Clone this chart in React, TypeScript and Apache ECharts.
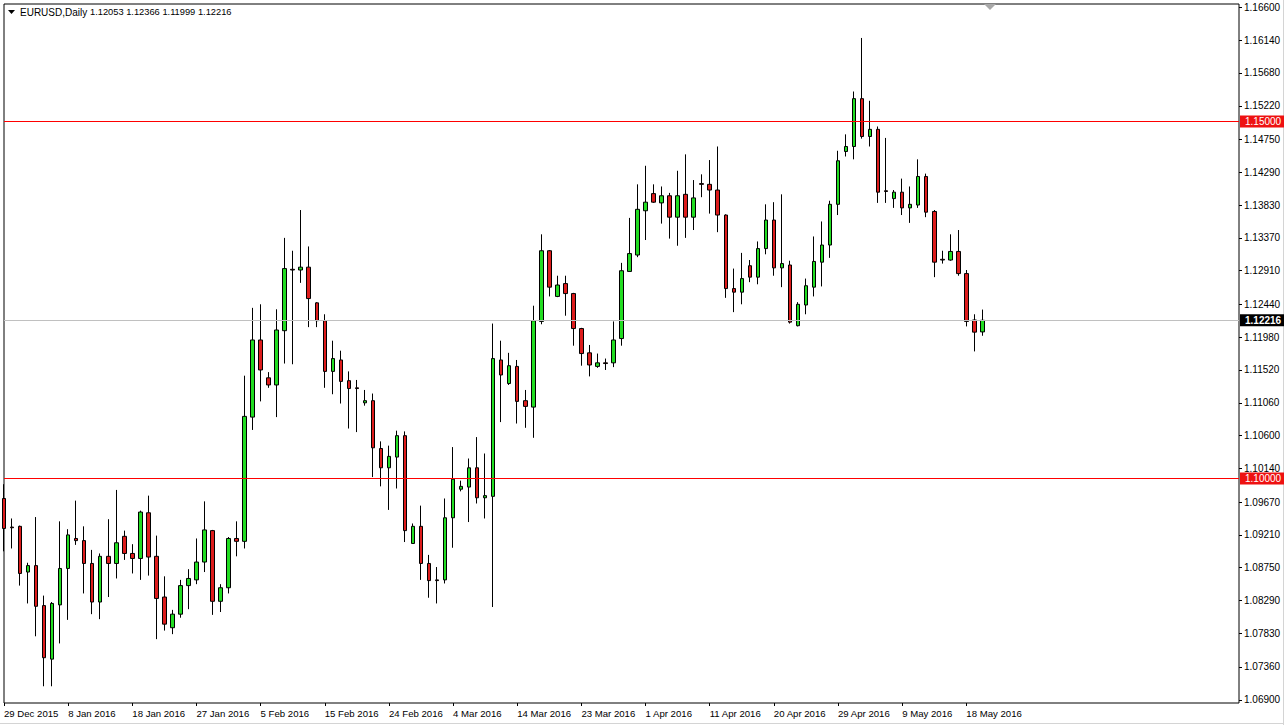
import React, { useEffect, useRef } from "react";
import * as echarts from "echarts";

// ---- data ----
const symbolName = "EURUSD,Daily";
const quoteText = "1.12053 1.12366 1.11999 1.12216";
const startDate = "2015-12-29";
const skippedDays = ["2016-01-01"]; // holiday without a bar
const totalSlots = 155; // bars + empty chart-shift space on the right
const labelEvery = 8;

const opens = [
  1.0972, 1.0932, 1.0933, 1.0869, 1.0878, 1.0822, 1.0747, 1.0823, 1.0874, 1.0916,
  1.0913, 1.0881, 1.0827, 1.0891, 1.0881, 1.0919, 1.0895, 1.0888, 1.0952, 1.0891,
  1.0834, 1.0791, 1.081, 1.085, 1.0858, 1.0883, 1.0927, 1.0828, 1.0847, 1.0916,
  1.0912, 1.1086, 1.1194, 1.1141, 1.1131, 1.1207, 1.1293, 1.1292, 1.1296, 1.1246,
  1.1221, 1.115, 1.1166, 1.1137, 1.1127, 1.1106, 1.1109, 1.1042, 1.1015, 1.103,
  1.106, 1.0909, 1.0933, 1.0881, 1.0858, 1.0858, 1.0945, 1.0985, 1.0988, 1.1015,
  1.0973, 1.0975, 1.1166, 1.1133, 1.1157, 1.1109, 1.11, 1.122, 1.1319, 1.1255,
  1.1273, 1.1259, 1.121, 1.1176, 1.1157, 1.1162, 1.1162, 1.1196, 1.129, 1.1313,
  1.1375, 1.1399, 1.1386, 1.1396, 1.1366, 1.1398, 1.1366, 1.1413, 1.1412, 1.1404,
  1.1369, 1.1266, 1.1261, 1.1298, 1.1282, 1.1322, 1.1362, 1.1295, 1.1299, 1.1214,
  1.1243, 1.1268, 1.1303, 1.1327, 1.1384, 1.1458, 1.1465, 1.1532, 1.1479, 1.1489,
  1.1403, 1.1392, 1.1401, 1.1379, 1.1383, 1.1423, 1.1374, 1.1307, 1.1306, 1.1318,
  1.1287, 1.1222, 1.12053,
];
const closes = [
  1.093, 1.0931, 1.0867, 1.0878, 1.0821, 1.0749, 1.0825, 1.0874, 1.0921, 1.0913,
  1.0881, 1.0827, 1.0891, 1.0881, 1.091, 1.0895, 1.0888, 1.0953, 1.089, 1.0832,
  1.0796, 1.081, 1.085, 1.086, 1.0883, 1.0928, 1.0828, 1.0847, 1.0916, 1.0912,
  1.1087, 1.1194, 1.1152, 1.1131, 1.1208, 1.1294, 1.1292, 1.1296, 1.1252, 1.1221,
  1.115, 1.1168, 1.1136, 1.1126, 1.1126, 1.1109, 1.1043, 1.1015, 1.1031, 1.106,
  1.0927, 1.0933, 1.0881, 1.0857, 1.0857, 1.0945, 1.0999, 1.0989, 1.1015, 1.0973,
  1.0976, 1.1168, 1.1145, 1.1158, 1.1108, 1.1101, 1.1221, 1.1319, 1.1268, 1.1271,
  1.1259, 1.121, 1.1175, 1.1159, 1.1162, 1.1161, 1.1194, 1.1291, 1.1315, 1.1377,
  1.1387, 1.1387, 1.1396, 1.1366, 1.1396, 1.1366, 1.1393, 1.1412, 1.1404, 1.1369,
  1.1266, 1.1261, 1.128, 1.1282, 1.1322, 1.1362, 1.1295, 1.1301, 1.1219, 1.1244,
  1.127, 1.1304, 1.1327, 1.1384, 1.1445, 1.1465, 1.1532, 1.1479, 1.1489, 1.1401,
  1.1402, 1.1401, 1.1379, 1.1384, 1.1423, 1.1373, 1.1303, 1.1306, 1.1318, 1.1287,
  1.122, 1.1205, 1.12216,
];
const lows = [
  1.0898, 1.0902, 1.085, 1.0825, 1.0779, 1.0709, 1.0709, 1.0769, 1.0802, 1.0907,
  1.0839, 1.081, 1.0803, 1.0834, 1.086, 1.0886, 1.0867, 1.0858, 1.0864, 1.0775,
  1.0787, 1.0782, 1.0805, 1.0817, 1.0852, 1.0869, 1.0809, 1.0813, 1.0839, 1.0891,
  1.0902, 1.1068, 1.1108, 1.1127, 1.1086, 1.1161, 1.116, 1.1274, 1.1212, 1.1212,
  1.1127, 1.1118, 1.1105, 1.107, 1.1065, 1.1102, 1.1002, 1.0989, 1.0956, 1.0986,
  1.0911, 1.0909, 1.0858, 1.0833, 1.0825, 1.0853, 1.0903, 1.0982, 1.0939, 1.0965,
  1.0944, 1.082, 1.1079, 1.1131, 1.1077, 1.1071, 1.1057, 1.1216, 1.1255, 1.1254,
  1.1228, 1.1186, 1.1158, 1.1143, 1.1155, 1.1152, 1.1156, 1.1186, 1.129, 1.131,
  1.1334, 1.1386, 1.1357, 1.1336, 1.1326, 1.1337, 1.1348, 1.1394, 1.1371, 1.1345,
  1.1253, 1.1233, 1.1244, 1.1275, 1.1272, 1.1314, 1.1284, 1.1268, 1.1217, 1.1213,
  1.123, 1.1255, 1.1269, 1.1309, 1.1369, 1.1451, 1.1447, 1.1476, 1.1465, 1.1386,
  1.1386, 1.1379, 1.1369, 1.1358, 1.1379, 1.1366, 1.1282, 1.1301, 1.1305, 1.1284,
  1.1213, 1.1178, 1.11999,
];
const highs = [
  1.0992, 1.0944, 1.0934, 1.0882, 1.0946, 1.0836, 1.0827, 1.094, 1.0929, 1.0969,
  1.0933, 1.09, 1.0895, 1.0943, 1.0984, 1.0927, 1.0908, 1.0955, 1.0976, 1.092,
  1.0863, 1.0816, 1.0858, 1.0873, 1.0916, 1.0968, 1.0928, 1.0852, 1.0918, 1.094,
  1.1144, 1.1239, 1.1244, 1.1149, 1.1237, 1.1337, 1.1319, 1.1376, 1.1325, 1.1247,
  1.123, 1.1193, 1.1179, 1.115, 1.1138, 1.1124, 1.1119, 1.1052, 1.1046, 1.1067,
  1.1066, 1.0937, 1.0962, 1.0893, 1.0876, 1.0972, 1.1044, 1.0997, 1.1028, 1.1058,
  1.1035, 1.1217, 1.1193, 1.1176, 1.1166, 1.1124, 1.1242, 1.1342, 1.132, 1.1284,
  1.1284, 1.126, 1.1211, 1.1187, 1.1175, 1.1168, 1.122, 1.1302, 1.1365, 1.1412,
  1.1438, 1.1412, 1.1409, 1.14, 1.1431, 1.1454, 1.1418, 1.1426, 1.1446, 1.1465,
  1.137, 1.1294, 1.1316, 1.1306, 1.1332, 1.1384, 1.1387, 1.1398, 1.1305, 1.1247,
  1.128, 1.1339, 1.136, 1.1389, 1.1459, 1.1482, 1.1542, 1.1617, 1.1529, 1.1493,
  1.1477, 1.1404, 1.142, 1.1409, 1.1447, 1.1427, 1.1376, 1.1319, 1.1342, 1.1348,
  1.1292, 1.123, 1.12366,
];

const yTicks = [
  1.069, 1.0736, 1.0783, 1.0829, 1.0875, 1.0921, 1.0967, 1.1014, 1.106, 1.1106,
  1.1152, 1.1198, 1.1244, 1.1291, 1.1337, 1.1383, 1.1429, 1.1475, 1.1522, 1.1568,
  1.1614, 1.166,
];
const yMin = 1.068557;
const yMax = 1.166457;
const levelLines = [1.15, 1.1];
const lastPrice = 1.12216;

const monthNames = ["Jan", "Feb", "Mar", "Apr", "May", "Jun", "Jul", "Aug", "Sep", "Oct", "Nov", "Dec"];

function buildCategories(): string[] {
  const out: string[] = [];
  const d = new Date(startDate + "T00:00:00Z");
  while (out.length < opens.length) {
    const iso = d.toISOString().slice(0, 10);
    if (d.getUTCDay() !== 6 && skippedDays.indexOf(iso) < 0) {
      out.push(d.getUTCDate() + " " + monthNames[d.getUTCMonth()] + " " + d.getUTCFullYear());
    }
    d.setUTCDate(d.getUTCDate() + 1);
  }
  while (out.length < totalSlots) out.push("");
  return out;
}

const FONT = "'Liberation Sans', 'DejaVu Sans', sans-serif";

export default function App() {
  const ref = useRef<HTMLDivElement>(null);

  useEffect(() => {
    document.body.style.margin = "0";
    if (!ref.current) return;
    const chart = echarts.init(ref.current, null, { renderer: "svg" });
    const categories = buildCategories();
    const candleData = opens.map((o, i) => [o, closes[i], lows[i], highs[i]]);
    const showTick = (i: number, v: string) => i % labelEvery === 0 && v !== "";

    const levelMark = (v: number) => ({
      yAxis: v,
      lineStyle: { color: "#ff0000", width: 1.2, type: "solid", opacity: 1 },
      label: {
        show: true,
        position: "end",
        formatter: v.toFixed(5),
        color: "#ffffff",
        backgroundColor: "#ee1111",
        padding: [1, 5, 1, 5],
        fontSize: 10,
        fontFamily: FONT,
        distance: 1,
      },
    });

    chart.setOption({
      animation: false,
      backgroundColor: "#ffffff",
      grid: {
        left: 4,
        top: 4,
        right: 45,
        bottom: 22,
        show: true,
        borderColor: "#000000",
        borderWidth: 1,
        backgroundColor: "#ffffff",
      },
      xAxis: {
        type: "category",
        data: categories,
        boundaryGap: false,
        axisLine: { show: false },
        axisTick: {
          show: true,
          interval: showTick,
          length: 3,
          lineStyle: { color: "#000000" },
        },
        axisLabel: {
          interval: showTick,
          align: "left",
          margin: 5,
          color: "#000000",
          fontSize: 9.6,
          fontFamily: FONT,
        },
        splitLine: { show: false },
      },
      yAxis: {
        type: "value",
        position: "right",
        min: yMin,
        max: yMax,
        scale: true,
        axisLine: { show: false },
        axisTick: {
          show: true,
          customValues: yTicks,
          length: 3,
          lineStyle: { color: "#000000" },
        },
        axisLabel: {
          customValues: yTicks,
          formatter: (v: number) => v.toFixed(5),
          color: "#000000",
          fontSize: 10,
          fontFamily: FONT,
          margin: 5,
        },
        splitLine: { show: false },
      },
      series: [
        {
          // holder for the horizontal price levels, drawn behind the candles
          type: "line",
          data: [],
          z: 1,
          silent: true,
          markLine: {
            silent: true,
            symbol: "none",
            precision: 5,
            animation: false,
            data: [
              ...levelLines.map((v) => levelMark(v)),
              {
                yAxis: lastPrice,
                lineStyle: { color: "#c0c0c0", width: 1, type: "solid", opacity: 1 },
                label: {
                  show: true,
                  position: "end",
                  formatter: lastPrice.toFixed(5),
                  color: "#ffffff",
                  backgroundColor: "#000000",
                  padding: [1, 5, 1, 5],
                  fontSize: 10,
                  fontWeight: "bold",
                  fontFamily: FONT,
                  distance: 1,
                },
              },
            ],
          },
        },
        {
          type: "candlestick",
          data: candleData,
          barWidth: 4,
          clip: true,
          z: 3,
          itemStyle: {
            color: "#22dd22",
            color0: "#dd1c1c",
            borderColor: "#000000",
            borderColor0: "#000000",
            borderWidth: 1,
          },
        },
      ],
      graphic: [
        {
          type: "polygon",
          shape: { points: [[8, 10], [15, 10], [11.5, 14]] },
          style: { fill: "#000000" },
        },
        {
          type: "text",
          left: 20,
          top: 7,
          style: { text: symbolName, fill: "#000000", font: "10px " + FONT },
        },
        {
          type: "text",
          left: 90,
          top: 7,
          style: { text: quoteText, fill: "#000000", font: "9.3px " + FONT },
        },
        {
          type: "polygon",
          shape: { points: [[984, 4], [996, 4], [990, 10]] },
          style: { fill: "#a8a8a8" },
        },
        {
          type: "line",
          shape: { x1: 1283.5, y1: 0, x2: 1283.5, y2: 725 },
          style: { stroke: "#d4d4d4", lineWidth: 1 },
        },
        {
          type: "line",
          shape: { x1: 0, y1: 723.5, x2: 1284, y2: 723.5 },
          style: { stroke: "#d4d4d4", lineWidth: 1 },
        },
      ],
    });

    return () => chart.dispose();
  }, []);

  return <div ref={ref} style={{ width: 1284, height: 725 }} />;
}
